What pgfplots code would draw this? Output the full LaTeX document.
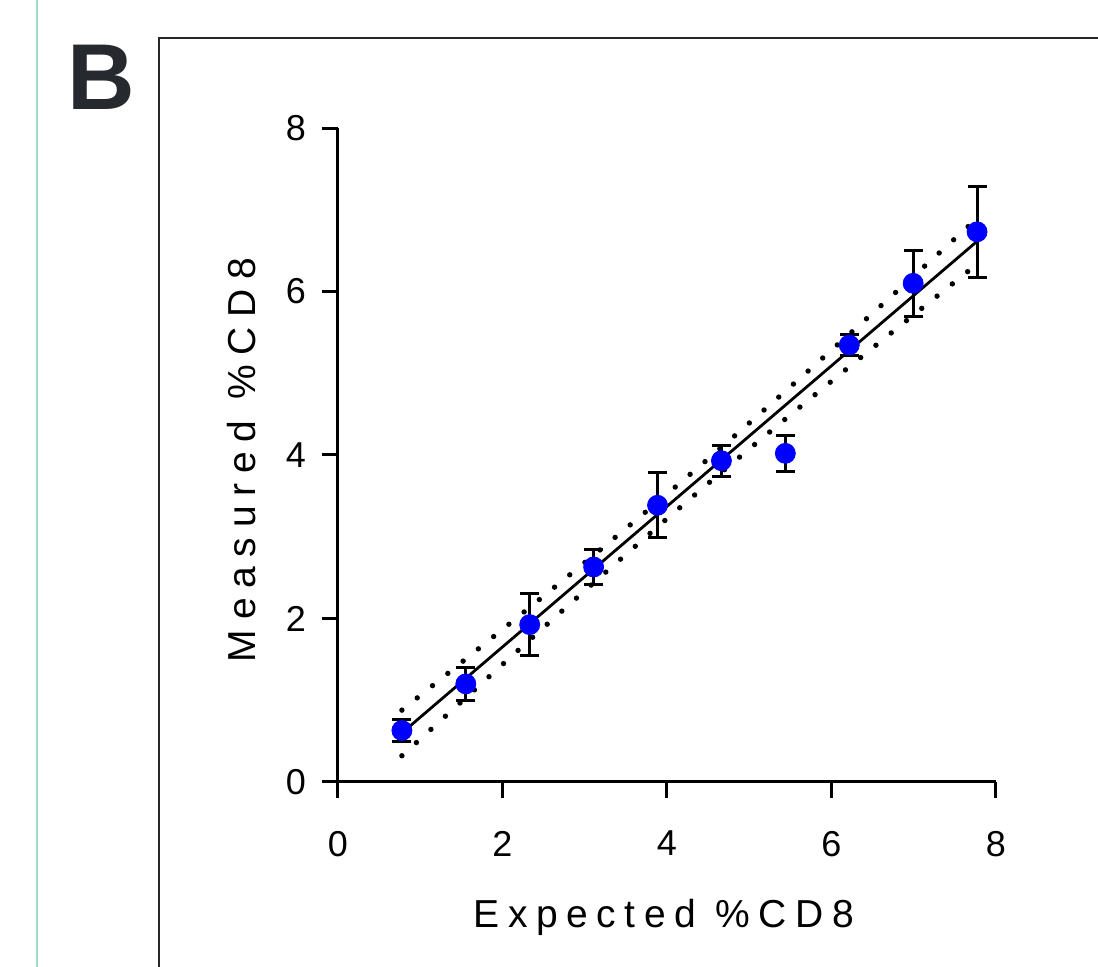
\documentclass[border=0pt]{standalone}
\usepackage{fontspec}
\setmainfont{Liberation Sans}
\usepackage{pgfplots}
\usepackage{pgfplotstable}
\pgfplotsset{compat=1.18}
\definecolor{tealline}{RGB}{160,218,198}
\definecolor{bcol}{RGB}{38,42,46}

\pgfplotstableread{
x     y      e
0.777 0.630  0.130
1.554 1.200  0.200
2.331 1.925  0.375
3.108 2.630  0.220
3.885 3.385  0.395
4.662 3.930  0.190
5.439 4.020  0.220
6.216 5.345  0.125
6.993 6.100  0.400
7.770 6.730  0.560
}\datatable

\begin{document}
\begin{tikzpicture}
\path[use as bounding box] (-169pt,-92.5pt) rectangle (380pt,391pt);
\clip (-169pt,-92.5pt) rectangle (380pt,391pt);
\draw[tealline, line width=1.3pt] (-150.5pt,-100pt) -- (-150.5pt,400pt);
\draw[black!85, line width=0.6pt] (-89.5pt,-100pt) -- (-89.5pt,372pt) -- (400pt,372pt);
\node[font=\fontsize{46.8}{47}\selectfont\bfseries, text=bcol, anchor=base, inner sep=0pt] at (-118.25pt,336pt) {B};
\begin{axis}[
  at={(0,0)}, anchor=south west,
  scale only axis, width=329pt, height=327pt,
  xmin=0, xmax=8, ymin=0, ymax=8,
  axis lines=left,
  axis line style={-, line width=1.5pt, black},
  xtick={0,2,4,6,8}, ytick={0,2,4,6,8},
  tick align=outside,
  major tick length=8pt,
  tick style={line width=1.5pt, black},
  /pgf/number format/assume math mode=true,
  ticklabel style={font=\fontsize{18}{18}\selectfont},
  xticklabel style={yshift=-13pt},
  yticklabel style={xshift=-4.5pt},
  xlabel={\addfontfeature{LetterSpace=22}Expected \%CD8},
  ylabel={\addfontfeature{LetterSpace=25}Measured \%CD8},
  label style={font=\fontsize{19.5}{20}\selectfont},
  xlabel style={at={(axis description cs:0.4954,-0.2232)}, anchor=base},
  ylabel style={at={(axis description cs:-0.1261,0.4924)}, anchor=base, rotate=0},
  clip=false,
]
\addplot[black, line width=2.7pt, dash pattern=on 0pt off 9.8pt, line cap=round, smooth] coordinates {
(0.777,0.879) (1.554,1.505) (2.331,2.136) (3.108,2.774) (3.885,3.425) (4.270,3.754) (4.662,4.093) (5.439,4.780) (6.216,5.477) (6.993,6.183) (7.770,6.893)};
\addplot[black, line width=2.7pt, dash pattern=on 0pt off 9.8pt, line cap=round, smooth] coordinates {
(0.777,0.321) (1.554,1.031) (2.331,1.738) (3.108,2.436) (3.885,3.121) (4.270,3.454) (4.662,3.789) (5.439,4.440) (6.216,5.079) (6.993,5.709) (7.770,6.335)};
\addplot[black, line width=1.4pt] coordinates {(0.777,0.600) (7.770,6.614)};
\addplot[only marks, mark=*, mark size=5pt, mark options={fill=blue, draw=blue},
  error bars/.cd, y dir=both, y explicit,
  error bar style={line width=1.5pt, black},
  error mark options={rotate=90, mark size=4.75pt, line width=1.5pt, black}]
  table[x=x, y=y, y error=e] {\datatable};
\end{axis}
\end{tikzpicture}
\end{document}
